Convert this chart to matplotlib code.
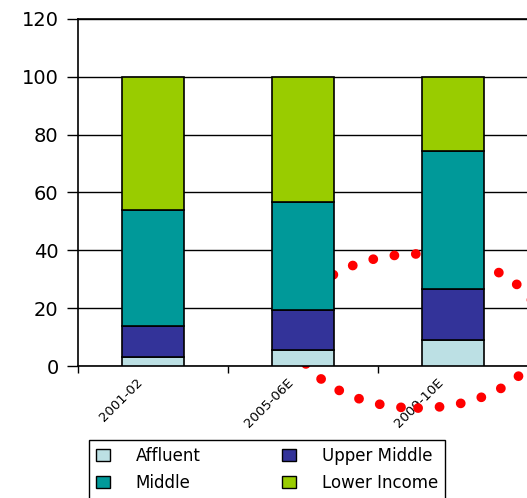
import matplotlib
matplotlib.use("Agg")
import matplotlib.pyplot as plt
from matplotlib.patches import Ellipse, Patch
import numpy as np

categories = ["2001-02", "2005-06E", "2009-10E"]
series_names = ["Affluent", "Upper Middle", "Middle", "Lower Income"]
affluent = [3.2, 5.5, 8.9]
upper_middle = [10.8, 14.0, 17.7]
middle = [40.0, 37.2, 47.8]
lower_income = [46.0, 43.3, 25.6]
colors = {"Affluent": "#BCE0E4", "Upper Middle": "#333399",
          "Middle": "#009999", "Lower Income": "#99CC00"}
yticks = [0, 20, 40, 60, 80, 100, 120]

plt.rcParams['font.family'] = ['DejaVu Sans']
fig = plt.figure(figsize=(5.27, 4.98), dpi=100)
ax = fig.add_axes([78/527, 1-366/498, 450/527, 347/498])

x = np.arange(len(categories))
bottom = np.zeros(len(categories))
data = {"Affluent": affluent, "Upper Middle": upper_middle,
        "Middle": middle, "Lower Income": lower_income}
for name in series_names:
    vals = np.array(data[name])
    ax.bar(x, vals, width=0.41, bottom=bottom, color=colors[name],
           edgecolor="black", linewidth=1.2, zorder=3)
    bottom += vals

ax.set_xlim(-0.5, 2.5)
ax.set_ylim(0, 120)
ax.set_yticks(yticks)
ax.set_yticklabels([str(v) for v in yticks], fontsize=14)
ax.yaxis.grid(True, color="black", linewidth=1.0, zorder=1)
ax.set_axisbelow(True)

ax.set_xticks([-0.5, 0.5, 1.5, 2.5])
ax.set_xticklabels([])
# rotated labels end slightly left of the category centre
ax.set_xticks(x - 0.11, minor=True)
ax.set_xticklabels(categories, minor=True, rotation=45, ha="right",
                   rotation_mode="anchor", fontsize=9.5)
for lab in ax.get_xticklabels(minor=True):
    lab.set_zorder(5)
ax.tick_params(axis="x", which="minor", length=0, pad=7)
ax.tick_params(axis="x", which="major", length=5, direction="out", width=1)
ax.tick_params(axis="y", length=8, width=1, direction="out", pad=6)
for s in ["left", "bottom", "top", "right"]:
    ax.spines[s].set_color("black")
    ax.spines[s].set_linewidth(1.2)

# red dotted annotation ellipse (behind bars)
ell = Ellipse((1.767, 12.1), width=1.653, height=53.3, fill=False,
              edgecolor="red", linewidth=7, linestyle=(0, (0.01, 2.2)),
              capstyle="round", zorder=2, clip_on=False)
ax.add_patch(ell)

handles = [Patch(facecolor=colors[n], edgecolor="black", linewidth=1.0) for n in
           ["Affluent", "Middle", "Upper Middle", "Lower Income"]]
labels = ["Affluent", "Middle", "Upper Middle", "Lower Income"]
leg = fig.legend(handles, labels, ncol=2, loc="upper left",
                 bbox_to_anchor=(89/527, 1-440/498), fontsize=12,
                 frameon=True, fancybox=False, edgecolor="black",
                 framealpha=1, borderpad=0.4, handlelength=0.85,
                 handleheight=0.7, handletextpad=1.55, columnspacing=4.9,
                 labelspacing=0.55, borderaxespad=0)
leg.get_frame().set_linewidth(1.0)

fig.savefig("out.png", dpi=100)
